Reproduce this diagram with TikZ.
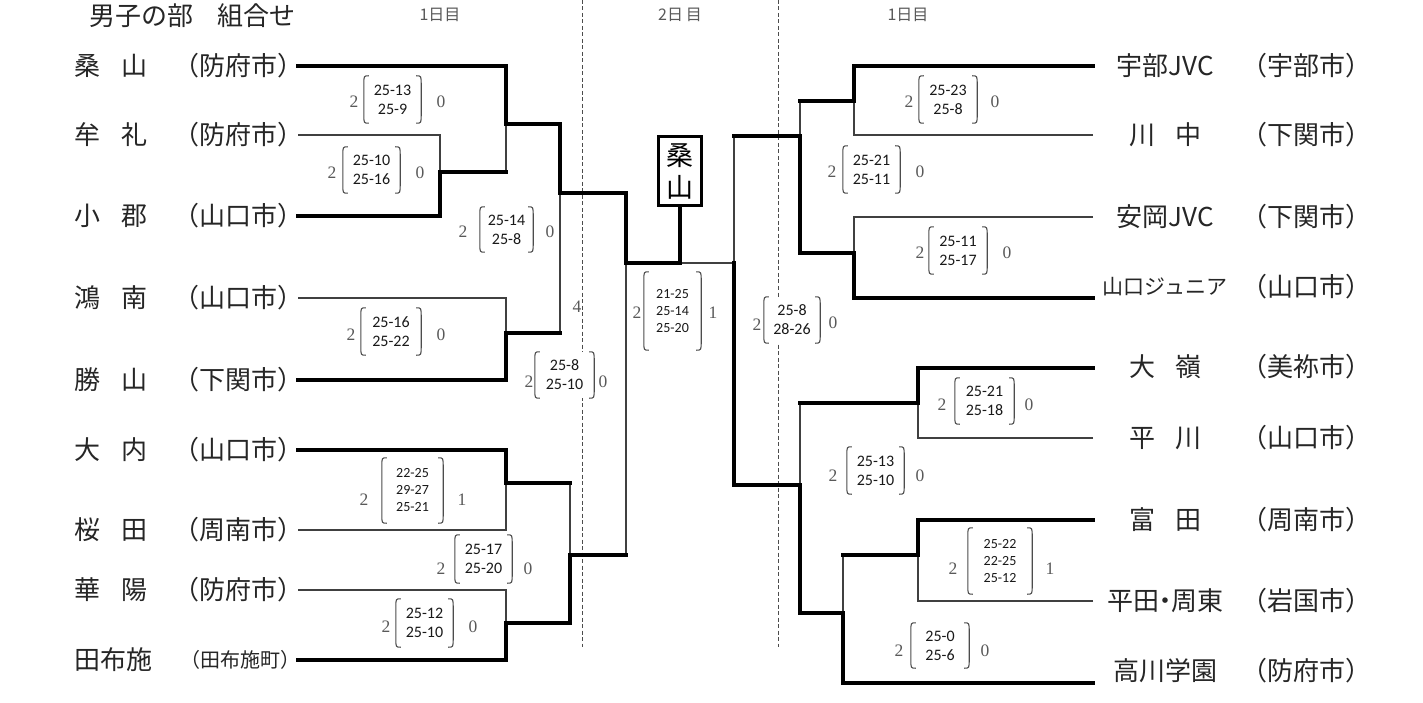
\documentclass[tikz,border=0pt]{standalone}
\usepackage{fontspec}
\setmainfont{Liberation Serif}
\newfontfamily\jpfont{Noto Sans CJK JP}
\newfontfamily\scfont{Carlito}
\tikzset{
 thickln/.style={line width=4.3pt, black, line join=miter, line cap=rect},
 thinln/.style={line width=1.3pt, black!75},
 dashln/.style={line width=1pt, black!70, dash pattern=on 4pt off 2.5pt},
 team/.style={font=\jpfont\fontsize{26}{30}\selectfont, text=black!85, inner sep=0pt},
 smallteam/.style={font=\jpfont\fontsize{21}{25}\selectfont, text=black!85, inner sep=0pt},
 smallcity/.style={font=\jpfont\fontsize{20}{24}\selectfont, text=black!85, inner sep=0pt},
 score/.style={font=\scfont\fontsize{16}{19}\selectfont, align=center, inner sep=0pt, fill=white, text=black!90},
 three/.style={font=\scfont\fontsize{14}{17}\selectfont},
 num/.style={font=\fontsize{17.5}{20}\selectfont, text=black!65, inner sep=0pt},
 brk/.style={line width=1.1pt, black!70},
 day/.style={font=\jpfont\fontsize{16}{19}\selectfont, text=black!65, inner sep=0pt},
 champ/.style={draw, line width=3.3pt, fill=white, minimum width=42.7pt, minimum height=68.7pt, align=center, font=\jpfont\fontsize{27}{32}\selectfont, inner sep=0pt},
}
\newcommand\scorebx[6]{%
  \node[score,#6,minimum width=#3pt,minimum height=#4pt] (#1) at (#2) {#5};
  \draw[brk] ([xshift=5pt]#1.north west) .. controls (#1.north west) .. ([yshift=-9pt]#1.north west) -- ([yshift=9pt]#1.south west) .. controls (#1.south west) .. ([xshift=5pt]#1.south west);
  \draw[brk] ([xshift=-5pt]#1.north east) .. controls (#1.north east) .. ([yshift=-9pt]#1.north east) -- ([yshift=9pt]#1.south east) .. controls (#1.south east) .. ([xshift=-5pt]#1.south east);
}
\begin{document}
\begin{tikzpicture}[x=1pt,y=-1pt]
\fill[white] (0,0) rectangle (1423,703);
\useasboundingbox (0,0) rectangle (1423,703);

% title and day labels
\node[team] (title) at (192,16) {男子の部\hspace{24pt}組合せ};
\node[day] (d1) at (440,15) {1日目};
\node[day] (d2) at (680,15) {2日\,目};
\node[day] (d3) at (908,15) {1日目};

% dashed day separators
\coordinate (v1t) at (582,0); \coordinate (v1b) at (582,647);
\coordinate (v2t) at (778,0); \coordinate (v2b) at (778,647);
\draw[dashln] (v1t) -- (v1b);
\draw[dashln] (v2t) -- (v2b);

% champion
\node[champ] (champ) at (680,171) {桑\\山};

% left line ends and junctions
\coordinate (a1) at (298,66);  \coordinate (a2) at (298,135);
\coordinate (a3) at (298,216); \coordinate (a4) at (298,298);
\coordinate (a5) at (298,380); \coordinate (a6) at (298,450);
\coordinate (a7) at (298,530); \coordinate (a8) at (298,590);
\coordinate (a9) at (298,660);
\coordinate (m23) at (440,172);
\coordinate (m1) at (506,124);
\coordinate (m45) at (506,333);
\coordinate (m67) at (506,483);
\coordinate (m89) at (506,623);
\coordinate (mA) at (560,193);
\coordinate (mB) at (570,555);
\coordinate (mF) at (626,263);

% right line ends and junctions
\coordinate (b1) at (1093,66);  \coordinate (b2) at (1093,135);
\coordinate (b3) at (1093,217); \coordinate (b4) at (1093,298);
\coordinate (b5) at (1093,368); \coordinate (b6) at (1093,438);
\coordinate (b7) at (1093,520); \coordinate (b8) at (1093,601);
\coordinate (b9) at (1093,683);
\coordinate (n12) at (854,101);
\coordinate (n34) at (854,253);
\coordinate (nA) at (800,136);
\coordinate (n56) at (918,403);
\coordinate (n78) at (918,555);
\coordinate (nB) at (843,613);
\coordinate (nC) at (800,485);
\coordinate (nF) at (734,263);

% thin lines (losers)
\draw[thinln] (a2) -- (a2 -| m23) -- (m23);
\draw[thinln] (m1) -- (m23 -| m1);
\draw[thinln] (a4) -- (a4 -| m45) -- (m45);
\draw[thinln] (mA) -- (m45 -| mA);
\draw[thinln] (m67) -- (a7 -| m67) -- (a7);
\draw[thinln] (a8) -- (a8 -| m89) -- (m89);
\draw[thinln] (m67 -| mB) -- (mB);
\draw[thinln] (mF) -- (mB -| mF);
\draw[thinln] (b2) -- (b2 -| n12) -- (n12);
\draw[thinln] (n12 -| nA) -- (nA);
\draw[thinln] (b3) -- (b3 -| n34) -- (n34);
\draw[thinln] (nA -| nF) -- (nF) -- (champ.south |- nF);
\draw[thinln] (b6) -- (b6 -| n56) -- (n56);
\draw[thinln] (n56 -| nC) -- (nC);
\draw[thinln] (b8) -- (b8 -| n78) -- (n78);
\draw[thinln] (n78 -| nB) -- (nB);

% thick lines (winners)
\draw[thickln] (a1) -- (a1 -| m1) -- (m1) -- (m1 -| mA) -- (mA) -- (mA -| mF) -- (mF) -- (mF -| champ) -- (champ.south);
\draw[thickln] (a3) -- (a3 -| m23) -- (m23) -- (m23 -| m1);
\draw[thickln] (a5) -- (a5 -| m45) -- (m45) -- (m45 -| mA);
\draw[thickln] (a6) -- (a6 -| m67) -- (m67) -- (m67 -| mB);
\draw[thickln] (a9) -- (a9 -| m89) -- (m89) -- (m89 -| mB) -- (mB) -- (mB -| mF);
\draw[thickln] (b1) -- (b1 -| n12) -- (n12) -- (n12 -| nA);
\draw[thickln] (b4) -- (b4 -| n34) -- (n34) -- (n34 -| nA) -- (nA) -- (nA -| nF);
\draw[thickln] (b5) -- (b5 -| n56) -- (n56) -- (n56 -| nC);
\draw[thickln] (b7) -- (b7 -| n78) -- (n78) -- (n78 -| nB);
\draw[thickln] (b9) -- (b9 -| nB) -- (nB) -- (nB -| nC) -- (nC) -- (nC -| nF) -- (nF);

% score boxes
\scorebx{s1}{392.5,99.5}{57}{47}{25-13\\25-9}{}
\scorebx{s2}{371.5,170}{57}{46}{25-10\\25-16}{}
\scorebx{s3}{506.5,229.5}{53}{45}{25-14\\25-8}{}
\scorebx{s4}{391,331.5}{60}{47}{25-16\\25-22}{}
\scorebx{s5}{564.5,375}{59}{46}{25-8\\25-10}{}
\scorebx{s6}{412.5,490.5}{61}{65}{22-25\\29-27\\25-21}{three}
\scorebx{s7}{483.5,559}{57}{48}{25-17\\25-20}{}
\scorebx{s8}{424.5,623}{57}{48}{25-12\\25-10}{}
\scorebx{sf}{672.5,311}{57}{78}{21-25\\25-14\\25-20}{three}
\scorebx{sr}{792,320}{56}{46}{25-8\\28-26}{}
\scorebx{r1}{948,99.5}{58}{47}{25-23\\25-8}{}
\scorebx{r2}{871.5,169.5}{57}{47}{25-21\\25-11}{}
\scorebx{r3}{958,250.5}{58}{47}{25-11\\25-17}{}
\scorebx{r4}{984.5,401}{59}{46}{25-21\\25-18}{}
\scorebx{r5}{875.5,470.5}{57}{47}{25-13\\25-10}{}
\scorebx{r6}{1000,561}{64}{66}{25-22\\22-25\\25-12}{three}
\scorebx{r7}{940,645.5}{58}{45}{25-0\\25-6}{}

% set counts
\node[num] (s1l) at (354,102) {2}; \node[num] (s1r) at (441,102) {0};
\node[num] (s2l) at (332,173) {2}; \node[num] (s2r) at (420,173) {0};
\node[num] (s3l) at (463,232) {2}; \node[num] (s3r) at (550,232) {0};
\node[num] (s4l) at (351,335) {2}; \node[num] (s4r) at (441,335) {0};
\node[num] (s5l) at (529,382) {2}; \node[num] (s5r) at (603,382) {0};
\node[num] (s6l) at (364,500) {2}; \node[num] (s6r) at (462,500) {1};
\node[num] (s7l) at (441,569) {2}; \node[num] (s7r) at (528,569) {0};
\node[num] (s8l) at (386,627) {2}; \node[num] (s8r) at (473,627) {0};
\node[num] (sfl) at (637,313) {2}; \node[num] (sfr) at (713,313) {1};
\node[num] (srl) at (757,325) {2}; \node[num] (srr) at (833,323) {0};
\node[num] (r1l) at (909,102) {2}; \node[num] (r1r) at (995,102) {0};
\node[num] (r2l) at (832,172) {2}; \node[num] (r2r) at (920,172) {0};
\node[num] (r3l) at (920,253) {2}; \node[num] (r3r) at (1007,253) {0};
\node[num] (r4l) at (942,405) {2}; \node[num] (r4r) at (1029,405) {0};
\node[num] (r5l) at (833,476) {2}; \node[num] (r5r) at (920,476) {0};
\node[num] (r6l) at (953,569) {2}; \node[num] (r6r) at (1050,569) {1};
\node[num] (r7l) at (899,651) {2}; \node[num] (r7r) at (985,651) {0};
\node[num] (four) at (577,307) {4};

% left teams
\node[team] (t1) at (111,66)  {桑\hspace{21pt}山};   \node[team] (c1) at (238,66)  {（防府市）};
\node[team] (t2) at (111,135) {牟\hspace{21pt}礼};   \node[team] (c2) at (238,135) {（防府市）};
\node[team] (t3) at (111,216) {小\hspace{21pt}郡};   \node[team] (c3) at (238,216) {（山口市）};
\node[team] (t4) at (111,298) {鴻\hspace{21pt}南};   \node[team] (c4) at (238,298) {（山口市）};
\node[team] (t5) at (111,380) {勝\hspace{21pt}山};   \node[team] (c5) at (238,380) {（下関市）};
\node[team] (t6) at (111,450) {大\hspace{21pt}内};   \node[team] (c6) at (238,450) {（山口市）};
\node[team] (t7) at (111,530) {桜\hspace{21pt}田};   \node[team] (c7) at (238,530) {（周南市）};
\node[team] (t8) at (111,590) {華\hspace{21pt}陽};   \node[team] (c8) at (238,590) {（防府市）};
\node[team] (t9) at (113,660) {田布施};              \node[smallcity] (c9) at (240,660) {（田布施町）};

% right teams
\node[team] (u1) at (1165,66)  {宇部JVC};            \node[team] (e1) at (1306,66)  {（宇部市）};
\node[team] (u2) at (1165,135) {川\hspace{20pt}中};  \node[team] (e2) at (1306,135) {（下関市）};
\node[team] (u3) at (1165,217) {安岡JVC};            \node[team] (e3) at (1306,217) {（下関市）};
\node[smallteam] (u4) at (1165,287) {山口ジュニア};   \node[team] (e4) at (1306,287) {（山口市）};
\node[team] (u5) at (1165,367) {大\hspace{20pt}嶺};  \node[team] (e5) at (1306,367) {（美祢市）};
\node[team] (u6) at (1165,438) {平\hspace{20pt}川};  \node[team] (e6) at (1306,438) {（山口市）};
\node[team] (u7) at (1165,520) {富\hspace{20pt}田};  \node[team] (e7) at (1306,520) {（周南市）};
\node[team] (u8) at (1165,601) {平田\kern-7pt・\kern-7pt周東}; \node[team] (e8) at (1306,601) {（岩国市）};
\node[team] (u9) at (1165,671) {高川学園};            \node[team] (e9) at (1306,671) {（防府市）};
\end{tikzpicture}
\end{document}
